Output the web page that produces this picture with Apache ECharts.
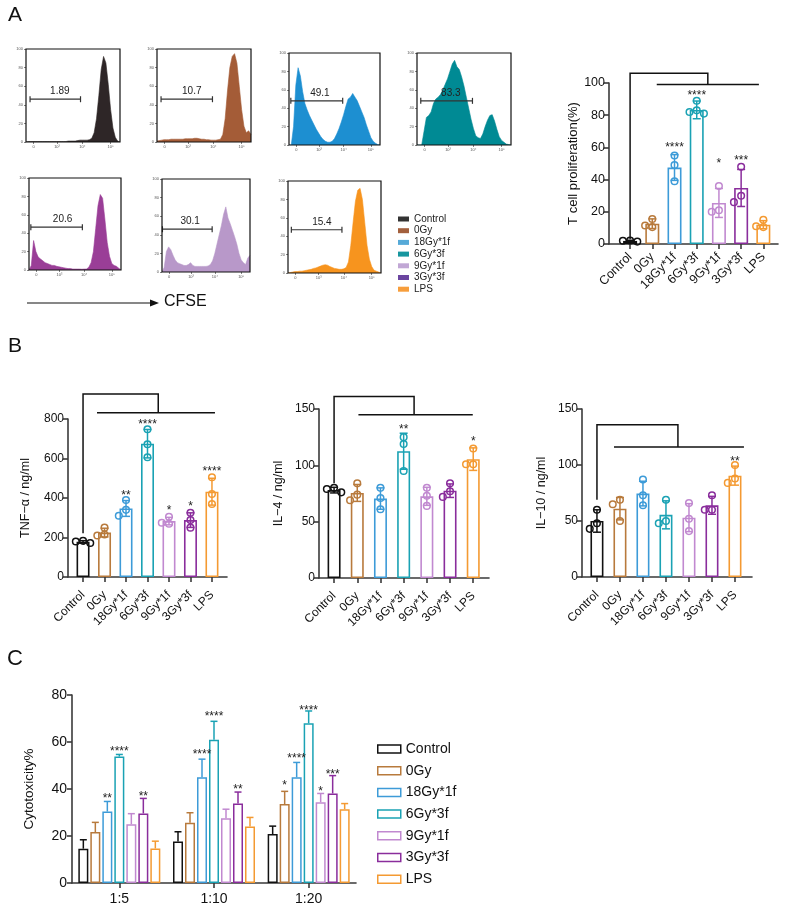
<!DOCTYPE html>
<html><head><meta charset="utf-8">
<script src="https://cdn.jsdelivr.net/npm/echarts@6/dist/echarts.min.js"></script>
<style>html,body{margin:0;padding:0;background:#fff}#c{width:794px;height:914px}</style>
</head><body><div id="c"></div>
<script>
// ---------------- DATA ----------------
const groups = ['Control','0Gy','18Gy*1f','6Gy*3f','9Gy*1f','3Gy*3f','LPS'];
const barColors = ['#111111','#b87a3c','#3d9bd8','#1aa2b4','#c189d0','#8a2d9c','#f49a32'];
const histLegendColors = ['#333333','#a3603d','#56aad8','#17969f','#c1a7d5','#6b45a0','#f79e3c'];
const histColors = ['#2e2627','#a45c37','#1d8fd1','#008a94','#9a3e97','#b898c9','#f7941e'];

// CFSE channel (% of axis width)
const histX = [0,2.5,5,7.5,10,12.5,15,17.5,20,22.5,25,27.5,30,32.5,35,37.5,40,42.5,45,47.5,50,52.5,55,57.5,60,62.5,65,67.5,70,72.5,75,77.5,80,82.5,85,87.5,90,92.5,95,97.5,100];
const histControl = [0,0.5,0.5,0.5,0.5,0.5,0.5,0.5,0.5,0.5,0.5,0.5,0.5,0.5,0.5,0.5,0.5,0.5,1,1,1,1,1.5,2,2,2,2,2.5,4,10,25,50,78,92,85,62,35,15,5,1,0];
const hist0Gy = [1,1.5,2,2.5,2.5,2.5,3,3,3,3,3,3,3.5,3.5,3.5,3.5,4,4,3.5,3,3,2.5,2.5,2,2,2,2.5,3,8,25,55,80,92,95,85,60,35,17,10,12,8];
const hist18Gy = [0,0,20,65,84,75,58,45,38,32,27,22,17,13,9,6,4,3,3,4,7,12,18,25,33,42,50,52,56,52,48,42,36,30,22,15,8,4,2,0.5,0];
const hist6Gy = [0,0,0,15,30,32,36,45,50,52,55,60,66,72,80,88,92,85,82,74,64,52,40,28,18,10,8,7,12,20,27,32,33,26,17,9,5,3,1,0.5,0];
const histPurple = [0,5,32,20,14,12,10,8,7,6,5,5,4,3.5,3,2.5,2,1.5,1.5,1,1,1,1,0.8,1,1,3,8,20,45,70,82,78,55,30,15,7,5,4,2,0];
const histLilac = [0,5,22,27,24,18,13,10,9,8,7,7,8,10,7,6,6,6,6,6,6,6.5,8,12,20,30,40,50,62,70,58,52,45,38,30,20,13,10,8,15,18];
const histLPS = [0,0.5,1,1.5,1.5,2,2,2.5,3,3.5,4,5,5.5,6.5,7.5,8.5,9,8.5,7,6,5,4.5,4,4,4.5,6,12,30,55,78,90,92,80,55,30,15,7,3,2,1,0];
const histTickPos = [8,33,60,90];
const histTickLabels = ['0','10³','10⁴','10⁵'];
const histYTicks = [0,20,40,60,80,100];

const gateStart = [4.3,4.3,2,4,2,0.5,3.6];
const gateEnd = [58,59,59,59,58,57,58];
const gateLevel = [46,46,48,48,46.5,46,47];
const gateLabelX = [36,37,34,36,36.5,32,36.5];
const gateLabels = ['1.89','10.7','49.1','83.3','20.6','30.1','15.4'];

// Panel A bar: T cell proliferation (%)
const aMeans = [1.9,12.6,47.5,83.3,25.5,34.8,12.0];
const aSD = [0.4,3.0,8.0,5.5,9.0,11.5,2.5];
const aPoints = [[1.5,2.0,2.2],[15.5,11.5,10.5],[55,49,39],[89,82,83,81],[36,21,20],[48,30,26],[15,11,10.5]];
const aStars = [[2,61.5,'****'],[3,94,'****'],[4,52,'*'],[5,53.5,'***']];
const aBracket = [0,3,106,3.5,99,1.2,5.8];

// Panel B: TNF-a, IL-4, IL-10
const b1Means = [178,225,347,675,283,288,432];
const b1SD = [6,22,40,72,19,37,68];
const b1Points = [[172,180,183],[250,215,210],[390,340,310],[748,672,606],[305,275,270],[325,288,250],[505,420,370]];
const b1Stars = [[2,427,'**'],[3,786,'****'],[4,350,'*'],[5,370,'*'],[6,547,'****']];
const b1Bracket = [0,222,927,3.5,832,0.65,6.14];

const b2Means = [78,75.5,70.5,112.5,72.5,77.5,105.5];
const b2SD = [2.5,7.5,9.5,16,8,6,10];
const b2Points = [[76,79,80],[84,74,69],[80,71,61],[125,119,95],[80,73,64],[84,77,72],[115,101,101]];
const b2Stars = [[3,134,'**'],[6,124,'*']];
const b2Bracket = [0,84,161,3.45,145,1.05,5.98];

const b3Means = [50,61,74.5,55.5,53,64,90.5];
const b3SD = [10,10,11,12.5,12.5,8,8.5];
const b3Points = [[60,48,43],[69,65,50],[87,73,64],[69,48,50],[66,52,41],[73,60,60],[100,88,84]];
const b3Stars = [[6,106,'**']];
const b3Bracket = [0,69,136,3.52,116,0.74,6.39];

// Panel C: Cytotoxicity %
const cCats = ['1:5','1:10','1:20'];
const cControl = [14.6,17.7,20.8], cControlSD = [3.8,4.1,3.4];
const c0Gy = [21.7,25.6,33.6], c0GySD = [4.1,4.3,5.4];
const c18Gy = [30.4,45,45], c18GySD = [4.3,7.7,6.3];
const c6Gy = [53.8,61,68], c6GySD = [0.9,7.8,5.2];
const c9Gy = [25,27.6,34.4], c9GySD = [4.5,3.8,3.7];
const c3Gy = [29.6,33.8,38.1], c3GySD = [6.4,4.9,7.6];
const cLPS = [14.7,24,31.4], cLPSSD = [3.1,3.9,2.4];
const cStars = [[0,2,37,'**'],[0,3,57.3,'****'],[0,5,37.8,'**'],[1,2,55.8,'****'],[1,3,71.9,'****'],[1,5,41,'**'],[2,1,42.8,'*'],[2,2,54,'****'],[2,3,74.6,'****'],[2,4,40,'*'],[2,5,47.2,'***']];

// ---------------- LAYOUT / STYLE ----------------
const FONT = 'Liberation Sans, Arial, Helvetica, sans-serif';
const AX = '#3a3a3a';
const histBoxes = [[26,49,94,93],[157,49,94,93],[289,53,91,92],[417,53,94,92],[29,178,92,92],[162,179,88,93],[288,181,93,92]];
const histData = [histControl,hist0Gy,hist18Gy,hist6Gy,histPurple,histLilac,histLPS];

const chart = echarts.init(document.getElementById('c'));
const grids = [], xAxes = [], yAxes = [], series = [];

// histograms
histBoxes.forEach((b,h) => {
  grids.push({left:b[0], top:b[1], width:b[2], height:b[3], show:true, borderColor:'#111', borderWidth:1.2, backgroundColor:'transparent', z:10});
  xAxes.push({type:'value', gridIndex:h, min:0, max:100, axisLine:{show:false},
    axisTick:{show:true, customValues:histTickPos, length:2, lineStyle:{color:'#333', width:0.6}},
    axisLabel:{customValues:histTickPos, formatter:(v)=>histTickLabels[histTickPos.indexOf(v)], fontSize:4, color:'#555', margin:3, fontFamily:FONT},
    splitLine:{show:false}});
  yAxes.push({type:'value', gridIndex:h, min:0, max:100, interval:20, axisLine:{show:false},
    axisTick:{show:true, length:2, lineStyle:{color:'#333', width:0.6}},
    axisLabel:{fontSize:4, color:'#555', margin:3, fontFamily:FONT}, splitLine:{show:false}});
  series.push({type:'line', name:'hist'+h, xAxisIndex:h, yAxisIndex:h, silent:true, showSymbol:false, symbol:'none',
    data: histX.map((x,i)=>[x, histData[h][i]]),
    lineStyle:{color:histColors[h], width:0.6}, areaStyle:{color:histColors[h], opacity:1}, z:3});
  series.push({type:'custom', name:'gate'+h, xAxisIndex:h, yAxisIndex:h, silent:true, clip:false, z:5,
    data:[[gateStart[h], gateLevel[h], gateEnd[h], gateLabelX[h]]], encode:{x:0, y:1},
    renderItem:(p, api) => {
      const a = api.coord([api.value(0), api.value(1)]);
      const e = api.coord([api.value(2), api.value(1)]);
      const lx = api.coord([api.value(3), api.value(1)])[0];
      const st = {stroke:'#333', lineWidth:1.2};
      return {type:'group', children:[
        {type:'line', shape:{x1:a[0], y1:a[1], x2:e[0], y2:e[1]}, style:st},
        {type:'line', shape:{x1:a[0], y1:a[1]-3, x2:a[0], y2:a[1]+3}, style:st},
        {type:'line', shape:{x1:e[0], y1:e[1]-3, x2:e[0], y2:e[1]+3}, style:st},
        {type:'text', x:lx, y:a[1]-8, style:{text:gateLabels[h], fontSize:10, fontFamily:FONT, fill:'#222', align:'center', verticalAlign:'middle'}}
      ]};
    }});
});

// bar panels
function addBarPanel(gi, box, xmin, xmax, ymax, yint, yname, ygap, means, sds, points, stars, bracket, barW, fs, lblMargin) {
  grids.push({left:box[0], top:box[1], width:box[2], height:box[3]});
  const cv = [0,1,2,3,4,5,6];
  xAxes.push({type:'value', gridIndex:gi, min:xmin, max:xmax,
    axisLine:{show:true, onZero:false, lineStyle:{color:AX, width:1.6}},
    axisTick:{show:true, customValues:cv, length:5, lineStyle:{color:AX, width:1.6}},
    axisLabel:{customValues:cv, formatter:(v)=>groups[Math.round(v)], rotate:45, fontSize:fs, color:'#111', fontFamily:FONT, margin:lblMargin},
    splitLine:{show:false}});
  yAxes.push({type:'value', gridIndex:gi, min:0, max:ymax, interval:yint, name:yname, nameLocation:'middle', nameGap:ygap,
    nameTextStyle:{fontSize:fs+0.5, color:'#111', fontFamily:FONT},
    axisLine:{show:true, onZero:false, lineStyle:{color:AX, width:1.6}},
    axisTick:{show:true, length:5, lineStyle:{color:AX, width:1.6}},
    axisLabel:{fontSize:fs, color:'#111', fontFamily:FONT, margin:4}, splitLine:{show:false}});
  series.push({type:'bar', name:'bars'+gi, xAxisIndex:gi, yAxisIndex:gi, barWidth:barW, silent:true, z:2,
    data: means.map((m,i)=>({value:[i,m], itemStyle:{color:'#fff', borderColor:barColors[i], borderWidth:1.6}}))});
  series.push({type:'custom', name:'err'+gi, xAxisIndex:gi, yAxisIndex:gi, silent:true, clip:false, z:4,
    data: means.map((m,i)=>[i, m-sds[i], m+sds[i]]), encode:{x:0, y:[1,2]},
    renderItem:(p, api) => {
      const i = p.dataIndex;
      const lo = api.coord([api.value(0), api.value(1)]);
      const hi = api.coord([api.value(0), api.value(2)]);
      const st = {stroke:barColors[i], lineWidth:1.5};
      return {type:'group', children:[
        {type:'line', shape:{x1:lo[0], y1:lo[1], x2:hi[0], y2:hi[1]}, style:st},
        {type:'line', shape:{x1:hi[0]-4, y1:hi[1], x2:hi[0]+4, y2:hi[1]}, style:st},
        {type:'line', shape:{x1:lo[0]-4, y1:lo[1], x2:lo[0]+4, y2:lo[1]}, style:st}
      ]};
    }});
  series.push({type:'custom', name:'dots'+gi, xAxisIndex:gi, yAxisIndex:gi, silent:true, clip:false, z:5,
    data: points.map((ps,i)=>[i, Math.max.apply(null, ps)]), encode:{x:0, y:1},
    renderItem:(p, api) => {
      const i = p.dataIndex, r = 3.3;
      const cx = api.coord([i, 0])[0];
      const arr = points[i].map(v => api.coord([i, v])[1]).sort((a,b)=>a-b);
      const placed = [], children = [];
      arr.forEach(y => {
        const cands = [0, -2*r-0.6, 2*r+0.6];
        let dx = 0;
        for (const c of cands) { if (placed.every(q => Math.hypot(q.x-c, q.y-y) >= 2*r)) { dx = c; break; } }
        placed.push({x:dx, y:y});
        children.push({type:'circle', shape:{cx:cx+dx, cy:y, r:r}, style:{fill:'rgba(255,255,255,0)', stroke:barColors[i], lineWidth:1.5}});
      });
      return {type:'group', children};
    }});
  series.push({type:'custom', name:'stars'+gi, xAxisIndex:gi, yAxisIndex:gi, silent:true, clip:false, z:6,
    data: stars.map(s=>[s[0], s[1]]), encode:{x:0, y:1},
    renderItem:(p, api) => {
      const c = api.coord([api.value(0), api.value(1)]);
      return {type:'text', x:c[0], y:c[1]+3, style:{text:stars[p.dataIndex][2], fontSize:12, fontFamily:FONT, fill:'#222', align:'center', verticalAlign:'middle'}};
    }});
  series.push({type:'custom', name:'bracket'+gi, xAxisIndex:gi, yAxisIndex:gi, silent:true, clip:false, z:6,
    data:[[bracket[0], bracket[2]]], encode:{x:0, y:1},
    renderItem:(p, api) => {
      const c = (x,y)=>api.coord([x,y]);
      const b = bracket;
      const a = c(b[0],b[1]), t = c(b[0],b[2]), m = c(b[3],b[2]), ml = c(b[3],b[4]), l = c(b[5],b[4]), r = c(b[6],b[4]);
      const st = {stroke:'#111', lineWidth:1.5, fill:null};
      return {type:'group', children:[
        {type:'polyline', shape:{points:[a,t,m,ml]}, style:st},
        {type:'line', shape:{x1:l[0], y1:l[1], x2:r[0], y2:r[1]}, style:st}
      ]};
    }});
}
addBarPanel(7, [609,83,169,161], -0.95, 6.66, 100, 20, 'T cell proliferation(%)', 26, aMeans, aSD, aPoints, aStars, aBracket, 14, 12.5, 11);
addBarPanel(8, [68,419,159,158], -0.70, 6.70, 800, 200, 'TNF−α / ng/ml', 36, b1Means, b1SD, b1Points, b1Stars, b1Bracket, 13, 12, 16);
addBarPanel(9, [319,409,170,169], -0.65, 6.68, 150, 50, 'IL−4 / ng/ml', 34, b2Means, b2SD, b2Points, b2Stars, b2Bracket, 13, 12, 16);
addBarPanel(10, [582,409,170,168], -0.65, 6.74, 150, 50, 'IL−10 / ng/ml', 34, b3Means, b3SD, b3Points, b3Stars, b3Bracket, 13, 12, 16);

// Panel C
const cMeans = [cControl,c0Gy,c18Gy,c6Gy,c9Gy,c3Gy,cLPS];
const cSDs = [cControlSD,c0GySD,c18GySD,c6GySD,c9GySD,c3GySD,cLPSSD];
grids.push({left:72, top:695, width:284, height:188});
xAxes.push({type:'category', gridIndex:11, data:cCats,
  axisLine:{show:true, lineStyle:{color:AX, width:1.6}},
  axisTick:{show:true, alignWithLabel:true, length:5, lineStyle:{color:AX, width:1.6}},
  axisLabel:{fontSize:14, color:'#111', fontFamily:FONT, margin:9}, splitLine:{show:false}});
yAxes.push({type:'value', gridIndex:11, min:0, max:80, interval:20, name:'Cytotoxicity%', nameLocation:'middle', nameGap:36,
  nameTextStyle:{fontSize:13.5, color:'#111', fontFamily:FONT},
  axisLine:{show:true, onZero:false, lineStyle:{color:AX, width:1.6}},
  axisTick:{show:true, length:5, lineStyle:{color:AX, width:1.6}},
  axisLabel:{fontSize:14, color:'#111', fontFamily:FONT, margin:5}, splitLine:{show:false}});
const C_STEP = 12;
groups.forEach((g, s) => {
  series.push({type:'bar', name:g, xAxisIndex:11, yAxisIndex:11, barWidth:10, barGap:'20%', silent:true, z:2,
    data:cMeans[s], itemStyle:{color:'#fff', borderColor:barColors[s], borderWidth:1.5}});
});
groups.forEach((g, s) => {
  series.push({type:'custom', name:'cerr'+s, xAxisIndex:11, yAxisIndex:11, silent:true, clip:false, z:4,
    data:cMeans[s].map((m,k)=>[k, m, m+cSDs[s][k]]), encode:{x:0, y:[1,2]},
    renderItem:(p, api) => {
      const dx = (s-3)*C_STEP;
      const lo = api.coord([api.value(0), api.value(1)]);
      const hi = api.coord([api.value(0), api.value(2)]);
      const st = {stroke:barColors[s], lineWidth:1.5};
      return {type:'group', children:[
        {type:'line', shape:{x1:lo[0]+dx, y1:lo[1], x2:hi[0]+dx, y2:hi[1]}, style:st},
        {type:'line', shape:{x1:hi[0]+dx-3.5, y1:hi[1], x2:hi[0]+dx+3.5, y2:hi[1]}, style:st}
      ]};
    }});
});
series.push({type:'custom', name:'cstars', xAxisIndex:11, yAxisIndex:11, silent:true, clip:false, z:6,
  data:cStars.map(s=>[s[0], s[2]]), encode:{x:0, y:1},
  renderItem:(p, api) => {
    const st = cStars[p.dataIndex];
    const c = api.coord([api.value(0), api.value(1)]);
    return {type:'text', x:c[0]+(st[1]-3)*C_STEP, y:c[1]+3, style:{text:st[3], fontSize:12, fontFamily:FONT, fill:'#222', align:'center', verticalAlign:'middle'}};
  }});

const option = {
  animation:false,
  backgroundColor:'#fff',
  grid:grids, xAxis:xAxes, yAxis:yAxes, series:series,
  legend:[
    {orient:'vertical', left:393, top:209, selectedMode:false, itemWidth:11, itemHeight:5, itemGap:1.7, icon:'rect',
     textStyle:{fontSize:10, lineHeight:10, color:'#222', fontFamily:FONT},
     data:groups.map((g,i)=>({name:g, icon:'rect', itemStyle:{color:histLegendColors[i], borderColor:histLegendColors[i], borderWidth:0}}))},
    {orient:'vertical', left:372, top:737, selectedMode:false, itemWidth:23, itemHeight:8, itemGap:7.7, icon:'rect',
     textStyle:{fontSize:14, lineHeight:14, color:'#111', fontFamily:FONT},
     data:groups.map((g,i)=>({name:g, icon:'rect', itemStyle:{color:'#fff', borderColor:barColors[i], borderWidth:1.5}}))}
  ],
  graphic:[
    {type:'text', left:8, top:5, style:{text:'A', fontSize:21, fontFamily:FONT, fill:'#111'}},
    {type:'text', left:8, top:336, style:{text:'B', fontSize:21, fontFamily:FONT, fill:'#111'}},
    {type:'text', left:7, top:648, style:{text:'C', fontSize:22, fontFamily:FONT, fill:'#111'}},
    {type:'line', shape:{x1:27, y1:303, x2:152, y2:303}, style:{stroke:'#111', lineWidth:1.2}},
    {type:'polygon', shape:{points:[[150,299.5],[159,303],[150,306.5]]}, style:{fill:'#111'}},
    {type:'text', left:164, top:294, style:{text:'CFSE', fontSize:16, fontFamily:FONT, fill:'#111'}}
  ]
};
chart.setOption(option);
</script>
</body></html>
